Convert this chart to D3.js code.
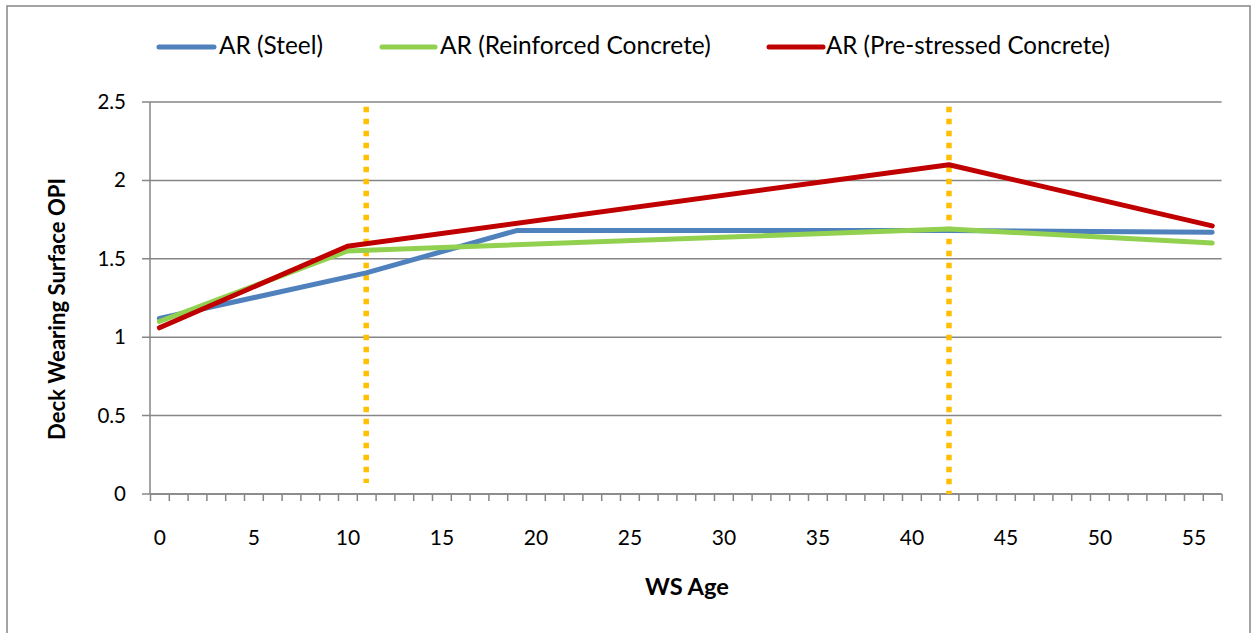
<!DOCTYPE html>
<html><head><meta charset="utf-8">
<script src="https://cdn.jsdelivr.net/npm/d3@7"></script>
<style>body{margin:0;background:#fff}svg{display:block}</style>
</head><body>
<svg id="c" width="1252" height="633"></svg>
<script>
// ---- data ----
const seriesNames = ["AR (Steel)", "AR (Reinforced Concrete)", "AR (Pre-stressed Concrete)"];
const steelAge = [0, 11, 19, 42, 56];
const steelOPI = [1.12, 1.41, 1.68, 1.68, 1.67];
const rcAge = [0, 10, 42, 56];
const rcOPI = [1.10, 1.55, 1.69, 1.60];
const psAge = [0, 10, 42, 56];
const psOPI = [1.06, 1.58, 2.10, 1.71];
const markerAges = [11, 42];
const markerTop = [2.47, 2.47];
const markerBottom = [0.07, 0.0];
const xTickLabels = [0, 5, 10, 15, 20, 25, 30, 35, 40, 45, 50, 55];
const yTickLabels = [0, 0.5, 1, 1.5, 2, 2.5];
const maxAge = 56;

const colors = ["#4F81BD", "#92D050", "#C00000"];
const grid = "#868686";

const svg = d3.select("#c");
const L = 150, R = 1221.6, T = 102, B = 494;

// outer border
svg.append("rect").attr("x", 7).attr("y", 6).attr("width", 1243).attr("height", 640)
  .attr("fill", "none").attr("stroke", grid).attr("stroke-width", 1.5);

const xb = d3.scaleLinear().domain([-0.5, maxAge + 0.5]).range([L, R]);
const y = d3.scaleLinear().domain([0, 2.5]).range([B, T]);

// gridlines
svg.append("g").selectAll("line").data(yTickLabels).join("line")
  .attr("x1", L - 8).attr("x2", R).attr("y1", d => y(d)).attr("y2", d => y(d))
  .attr("stroke", grid).attr("stroke-width", 1.5);

// y axis line
svg.append("line").attr("x1", L).attr("x2", L).attr("y1", T).attr("y2", B)
  .attr("stroke", grid).attr("stroke-width", 1.5);

// x axis tick marks at category boundaries
const bounds = d3.range(-0.5, maxAge + 1, 1);
const xAxis = d3.axisBottom(xb).tickValues(bounds).tickFormat("").tickSize(7).tickSizeOuter(0);
const gx = svg.append("g").attr("transform", `translate(0,${B})`).call(xAxis);
gx.selectAll("path,line").attr("stroke", grid).attr("stroke-width", 1.5);
gx.select("path.domain").remove();
svg.append("line").attr("x1", L).attr("x2", R).attr("y1", B).attr("y2", B)
  .attr("stroke", grid).attr("stroke-width", 1.5);

// x labels
const xl = d3.axisBottom(xb).tickValues(xTickLabels).tickSize(0).tickPadding(0);
const gxl = svg.append("g").attr("transform", `translate(0,${B + 51})`).call(xl);
gxl.select("path.domain").remove();
gxl.selectAll("text").attr("font-family", "Lato").attr("font-size", 21).attr("fill", "#000").attr("dy", 0);

// y labels
svg.append("g").selectAll("text").data(yTickLabels).join("text")
  .attr("x", 126).attr("y", d => y(d) + 7).attr("text-anchor", "end")
  .attr("font-family", "Lato").attr("font-size", 20.5).text(d => d);

// marker dotted lines
svg.append("g").selectAll("line").data(markerAges).join("line")
  .attr("x1", d => xb(d)).attr("x2", d => xb(d))
  .attr("y1", (d, i) => y(markerTop[i])).attr("y2", (d, i) => y(markerBottom[i]))
  .attr("stroke", "#FFC000").attr("stroke-width", 5.5).attr("stroke-dasharray", "5.5 6.5");

// series
const series = [
  steelAge.map((a, i) => [a, steelOPI[i]]),
  rcAge.map((a, i) => [a, rcOPI[i]]),
  psAge.map((a, i) => [a, psOPI[i]])
];
const line = d3.line().x(d => xb(d[0])).y(d => y(d[1]));
svg.append("g").selectAll("path").data(series).join("path")
  .attr("d", line).attr("fill", "none")
  .attr("stroke", (d, i) => colors[i]).attr("stroke-width", 5)
  .attr("stroke-linejoin", "round").attr("stroke-linecap", "round");

// fit helper
function fit(sel, w) {
  const n = sel.node(); const cur = n.getComputedTextLength();
  const fs = parseFloat(sel.attr("font-size"));
  sel.attr("font-size", fs * w / cur);
}

// legend
const legX = [[159, 214, 219, 104], [382, 435, 440, 271], [769, 823, 826, 284]];
const legY = 47;
seriesNames.forEach((nm, i) => {
  svg.append("line").attr("x1", legX[i][0]).attr("x2", legX[i][1]).attr("y1", legY).attr("y2", legY)
    .attr("stroke", colors[i]).attr("stroke-width", 5).attr("stroke-linecap", "round");
  const t = svg.append("text").attr("x", legX[i][2]).attr("y", legY + 7)
    .attr("font-family", "Lato").attr("font-size", 20).text(nm);
  fit(t, legX[i][3]);
});

// axis titles
const xt = svg.append("text").attr("x", 687).attr("y", 595).attr("text-anchor", "middle")
  .attr("font-family", "Lato").attr("font-weight", "bold").attr("font-size", 20).text("WS Age");
fit(xt, 84);
const yt = svg.append("text").attr("transform", "translate(65,309) rotate(-90)").attr("text-anchor", "middle")
  .attr("font-family", "Lato").attr("font-weight", "bold").attr("font-size", 20).text("Deck Wearing Surface OPI");
fit(yt, 262);
</script>
</body></html>
